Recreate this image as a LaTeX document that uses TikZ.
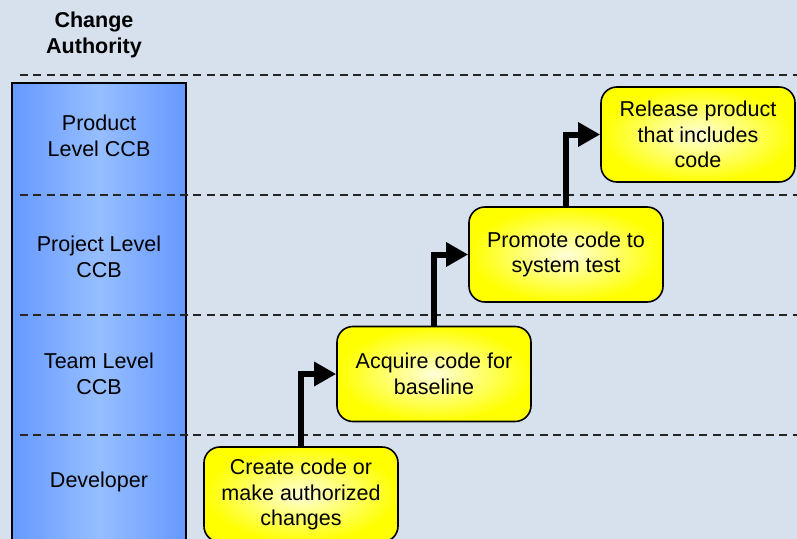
\documentclass[tikz,border=0pt]{standalone}
\usepackage{fontspec}
\setmainfont{Liberation Sans}
\usetikzlibrary{arrows.meta}
\definecolor{bgblue}{RGB}{215,225,238}
\definecolor{laneblue}{RGB}{102,153,255}
\definecolor{lanelight}{RGB}{150,190,255}
\begin{document}
\begin{tikzpicture}[x=0.025cm,y=-0.025cm,
    every node/.style={font=\fontsize{15.3}{18.3}\selectfont, align=center},
    task/.style={draw, line width=0.04cm, rounded corners=0.4cm,
      inner color=yellow!15, outer color=yellow,
      minimum width=4.85cm, minimum height=2.375cm},
    lane/.style={draw=black!85, line width=0.05cm, dash pattern=on 0.2cm off 0.133cm},
    flow/.style={line width=0.15cm, -{Triangle[length=0.55cm,width=0.58cm]}}]
      \path[use as bounding box, clip] (0,0) rectangle (797,539);
      \fill[bgblue] (0,0) rectangle (797,539);
      \shade[draw, line width=0.03cm, left color=laneblue, right color=laneblue,
        middle color=lanelight] (12,83) rectangle (186,560);
      \foreach \y in {75,195,315,435}
        \draw[lane] (20,\y) -- (797,\y);
      \draw
        (94,35) node[font=\fontsize{15.3}{18}\selectfont\bfseries] (head) {Change\\Authority}
        (99,136) node (product) {Product\\Level CCB}
        (99,257) node (project) {Project Level\\CCB}
        (99,374) node (team) {Team Level\\CCB}
        (99,482) node (dev) {Developer}
        (301,494.5) node[task] (create) {Create code or\\make authorized\\changes}
        (434,374) node[task] (acquire) {Acquire code for\\baseline}
        (566,254.5) node[task] (promote) {Promote code to\\system test}
        (698,134.5) node[task] (release) {Release product\\that includes\\code};
      \begin{scope}[flow]
        \draw (create.north) |- (acquire.west);
        \draw (acquire.north) |- (promote.west);
        \draw (promote.north) |- (release.west);
      \end{scope}
    \end{tikzpicture}
\end{document}
